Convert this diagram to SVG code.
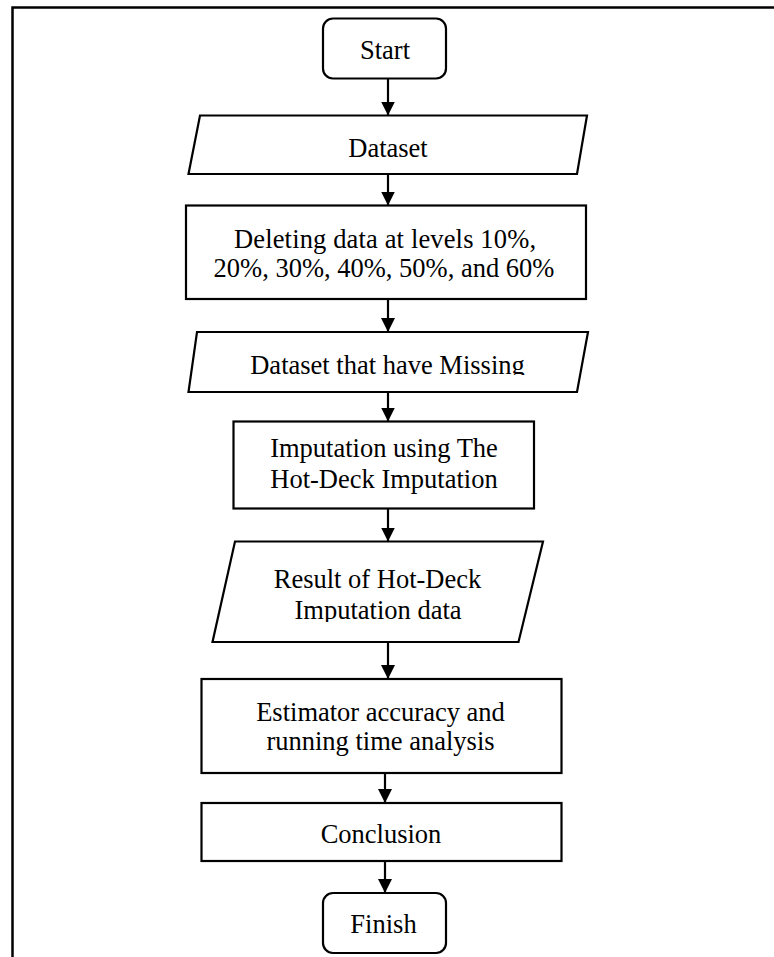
<svg xmlns="http://www.w3.org/2000/svg" width="774" height="957" viewBox="0 0 774 957">
<style>
.shape{fill:#fff;stroke:#000;stroke-width:2.2}
.lbl{font-family:"Liberation Serif","Times New Roman",serif;font-size:26.5px;fill:#000;text-anchor:middle}
.conn{stroke:#000;stroke-width:2.2;fill:none}
</style>
<defs>
<marker id="ah" viewBox="0 0 14 14" refX="14" refY="7" markerWidth="14" markerHeight="14" markerUnits="userSpaceOnUse" orient="auto">
<path d="M0,0 L14,7 L0,14 z" fill="#000"/>
</marker>
<clipPath id="clipMissing"><rect x="0" y="0" width="774" height="375"/></clipPath>
<clipPath id="clipResult"><rect x="0" y="0" width="774" height="622"/></clipPath>
</defs>
<rect width="774" height="957" fill="#fff"/>
<path d="M12.5,957 V7.5 H774" fill="none" stroke="#000" stroke-width="2.5"/>

<g id="start">
<rect class="shape" x="323" y="18.5" width="123" height="60" rx="10"/>
<text class="lbl" x="385" y="59">Start</text>
</g>
<g id="dataset">
<polygon class="shape" points="200,115.5 587,115.5 577,174 188.5,174"/>
<text class="lbl" x="388" y="157">Dataset</text>
</g>
<g id="deleting">
<rect class="shape" x="186" y="205.5" width="400" height="93.5"/>
<text class="lbl" x="385" y="248" textLength="302" lengthAdjust="spacing">Deleting data at levels 10%,</text>
<text class="lbl" x="384" y="277">20%, 30%, 40%, 50%, and 60%</text>
</g>
<g id="missing">
<polygon class="shape" points="197,332 588,332 577,392 188.5,392"/>
<text class="lbl" x="387.5" y="374" clip-path="url(#clipMissing)">Dataset that have Missing</text>
</g>
<g id="imputation">
<rect class="shape" x="233.5" y="421.5" width="300.5" height="87"/>
<text class="lbl" x="384" y="457">Imputation using The</text>
<text class="lbl" x="384" y="488">Hot-Deck Imputation</text>
</g>
<g id="result">
<polygon class="shape" points="235,541.5 543,541.5 518.5,642 212.5,642"/>
<text class="lbl" x="377.5" y="587.5">Result of Hot-Deck</text>
<text class="lbl" x="378" y="619" clip-path="url(#clipResult)">Imputation data</text>
</g>
<g id="estimator">
<rect class="shape" x="201.5" y="679" width="360" height="94"/>
<text class="lbl" x="380.5" y="721">Estimator accuracy and</text>
<text class="lbl" x="380.5" y="750">running time analysis</text>
</g>
<g id="conclusion">
<rect class="shape" x="201.5" y="803" width="360" height="58"/>
<text class="lbl" x="381" y="842.5">Conclusion</text>
</g>
<g id="finish">
<rect class="shape" x="323" y="893" width="123" height="60" rx="10"/>
<text class="lbl" x="383.5" y="933">Finish</text>
</g>

<g id="connectors">
<line class="conn" x1="388" y1="78.5" x2="388" y2="115.5" marker-end="url(#ah)"/>
<line class="conn" x1="388" y1="174" x2="388" y2="205.5" marker-end="url(#ah)"/>
<line class="conn" x1="388" y1="299" x2="388" y2="332" marker-end="url(#ah)"/>
<line class="conn" x1="388" y1="392" x2="388" y2="421.5" marker-end="url(#ah)"/>
<line class="conn" x1="388" y1="508.5" x2="388" y2="541.5" marker-end="url(#ah)"/>
<line class="conn" x1="388" y1="642" x2="388" y2="679" marker-end="url(#ah)"/>
<line class="conn" x1="385" y1="773" x2="385" y2="803" marker-end="url(#ah)"/>
<line class="conn" x1="385" y1="861" x2="385" y2="893" marker-end="url(#ah)"/>
</g>
</svg>
